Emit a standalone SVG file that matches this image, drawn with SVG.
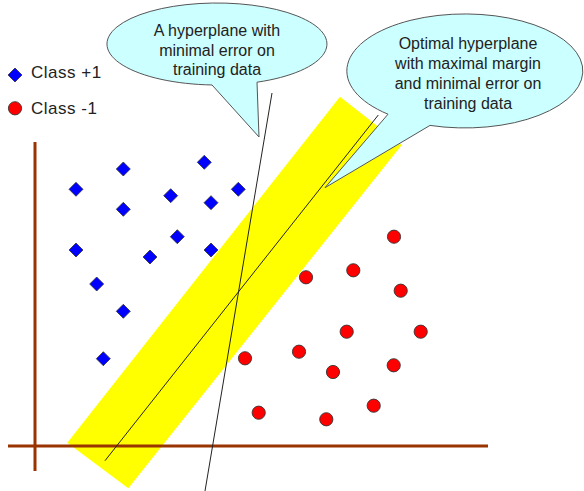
<svg xmlns="http://www.w3.org/2000/svg" xmlns:xlink="http://www.w3.org/1999/xlink" width="584" height="491" viewBox="0 0 584 491">
<style>
  .txt { font-family: "Liberation Sans", Arial, sans-serif; fill: #222; }
  .call { font-size: 16px; text-anchor: middle; }
  .leg { font-size: 17px; letter-spacing: 0.5px; }
  .bubble { fill: #CCFFFF; stroke: #555; stroke-width: 1; }
  .axis { stroke: #993300; stroke-width: 3; fill: none; }
  .hp { stroke: #222; stroke-width: 1; fill: none; }
  .pos { fill: #0000FF; stroke: #333; stroke-width: 0.8; }
  .neg { fill: #FF0000; stroke: #333; stroke-width: 0.9; }
</style>
<defs>
  <path id="dm" d="M0,-7 L7,0 L0,7 L-7,0 Z"/>
</defs>
<rect width="584" height="491" fill="#FFFFFF"/>

<g id="margin-band">
  <polygon points="340,96.7 401.7,145 128.3,488.3 67.3,442.7" fill="#FFFF00"/>
</g>

<g id="axes">
  <line class="axis" x1="35" y1="142" x2="35" y2="471"/>
  <line class="axis" x1="8" y1="446" x2="488" y2="446"/>
</g>

<g id="connectors">
  <line id="minimal-error-hyperplane" class="hp" x1="272" y1="93" x2="205" y2="491"/>
  <line id="optimal-hyperplane" class="hp" x1="378.3" y1="115" x2="105" y2="460.7"/>
</g>

<g id="class-plus">
  <use href="#dm" class="pos" x="123.3" y="169"/>
  <use href="#dm" class="pos" x="204.3" y="162.3"/>
  <use href="#dm" class="pos" x="76" y="189.3"/>
  <use href="#dm" class="pos" x="238.3" y="189.3"/>
  <use href="#dm" class="pos" x="170.7" y="195.7"/>
  <use href="#dm" class="pos" x="211" y="202.7"/>
  <use href="#dm" class="pos" x="123.3" y="209.3"/>
  <use href="#dm" class="pos" x="177.3" y="236.7"/>
  <use href="#dm" class="pos" x="76" y="250"/>
  <use href="#dm" class="pos" x="150" y="257"/>
  <use href="#dm" class="pos" x="211" y="250"/>
  <use href="#dm" class="pos" x="96.7" y="284"/>
  <use href="#dm" class="pos" x="123.3" y="311.3"/>
  <use href="#dm" class="pos" x="103.3" y="358.7"/>
</g>

<g id="class-minus">
  <circle class="neg" cx="394" cy="236.7" r="6.6"/>
  <circle class="neg" cx="306" cy="277.3" r="6.6"/>
  <circle class="neg" cx="353.3" cy="270.3" r="6.6"/>
  <circle class="neg" cx="400.7" cy="290.7" r="6.6"/>
  <circle class="neg" cx="346.7" cy="331.7" r="6.6"/>
  <circle class="neg" cx="420.7" cy="331.7" r="6.6"/>
  <circle class="neg" cx="245" cy="358.3" r="6.6"/>
  <circle class="neg" cx="299" cy="351.7" r="6.6"/>
  <circle class="neg" cx="333" cy="372" r="6.6"/>
  <circle class="neg" cx="393.7" cy="365.3" r="6.6"/>
  <circle class="neg" cx="258.7" cy="412.7" r="6.6"/>
  <circle class="neg" cx="326.3" cy="419.3" r="6.6"/>
  <circle class="neg" cx="373.7" cy="405.7" r="6.6"/>
</g>

<g id="legend">
  <use href="#dm" class="pos" x="15" y="75"/>
  <text class="txt leg" x="31" y="78">Class +1</text>
  <circle class="neg" cx="15" cy="108.3" r="6.6"/>
  <text class="txt leg" x="31" y="113.5">Class -1</text>
</g>

<g id="callout-minimal-error">
  <path class="bubble" d="M212,84.96 L259,137 L257,82.19 A110 41 0 1 0 212,84.96 Z"/>
  <text class="txt call" x="217" y="36">A hyperplane with</text>
  <text class="txt call" x="217" y="55.5">minimal error on</text>
  <text class="txt call" x="217" y="75">training data</text>
</g>

<g id="callout-optimal">
  <path class="bubble" d="M388,114.2 L325,187.7 L430,125.4 A118 57 0 1 0 388,114.2 Z"/>
  <text class="txt call" x="468" y="48.5">Optimal hyperplane</text>
  <text class="txt call" x="468" y="68.5">with maximal margin</text>
  <text class="txt call" x="468" y="88.5">and minimal error on</text>
  <text class="txt call" x="468" y="108.5">training data</text>
</g>
</svg>
